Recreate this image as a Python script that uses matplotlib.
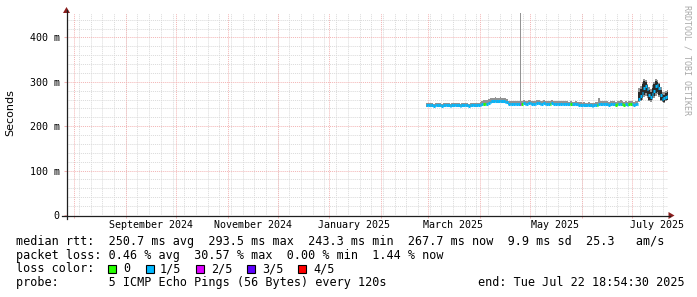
import numpy as np
import pandas as pd
import matplotlib
matplotlib.use("Agg")
import matplotlib.pyplot as plt
import matplotlib.dates as mdates
import matplotlib.transforms as mtransforms
from matplotlib.patches import Rectangle, Polygon
from matplotlib.lines import Line2D

# ---------------- data ----------------
end_time = pd.Timestamp("2025-07-22 18:54:30")
span_days = 360
day_dates = pd.date_range("2025-02-28", "2025-07-22", freq="D")  # 145 days

median_ms = [
    247, 248, 247, 247, 246, 247, 248, 247, 247, 246,
    247, 247, 248, 247, 246, 247, 247, 248, 247, 247,
    246, 247, 247, 248, 247, 246, 247, 247, 248, 247,
    247, 248,
    248, 249, 250, 250, 251, 252,
    255, 256, 256, 257, 256, 256, 257, 256, 256, 255, 255,
    251, 250, 251, 250, 250, 251, 250, 251,
    251, 252, 251, 251, 252, 252, 251, 250, 251, 252,
    252, 251, 251, 252, 251, 250, 251, 251, 252, 251,
    251, 250, 251, 251, 250, 250, 251, 250, 249, 250,
    249, 249, 250, 249, 248,
    248, 247, 248, 247, 247, 248, 247, 246, 247, 248, 248,
    249, 250, 249, 250, 251, 249, 248, 249, 250, 249,
    248, 249, 250, 251, 249, 248, 249, 248, 249, 250,
    249, 248, 249, 250,
    262, 268, 275, 285, 290, 283, 270, 266, 272, 280,
    290, 293, 285, 270, 262, 263, 266, 268,
]
smoke_hi_ms = [
    252, 253, 252, 252, 251, 252, 253, 252, 252, 251,
    252, 252, 253, 252, 251, 252, 252, 253, 252, 252,
    251, 252, 252, 253, 252, 251, 252, 252, 253, 252,
    252, 253,
    255, 257, 259, 260, 260, 261,
    263, 264, 264, 265, 264, 264, 265, 264, 264, 263, 262,
    257, 256, 257, 256, 256, 257, 256, 480,
    257, 258, 257, 257, 258, 258, 257, 256, 257, 258,
    258, 257, 257, 258, 257, 256, 257, 257, 258, 257,
    257, 256, 257, 257, 256, 256, 257, 256, 255, 256,
    255, 255, 256, 255, 254,
    254, 253, 254, 253, 253, 254, 253, 252, 253, 254, 254,
    264, 257, 256, 257, 257, 256, 255, 256, 257, 256,
    255, 256, 257, 258, 256, 255, 256, 255, 256, 257,
    256, 255, 256, 257,
    285, 290, 300, 306, 303, 296, 288, 284, 293, 300,
    306, 304, 298, 288, 278, 276, 280, 282,
]
smoke_lo_ms = [
    244, 245, 244, 244, 243, 244, 245, 244, 244, 243,
    244, 244, 245, 244, 243, 244, 244, 245, 244, 244,
    243, 244, 244, 245, 244, 243, 244, 244, 245, 244,
    244, 245,
    245, 246, 247, 247, 248, 249,
    252, 253, 253, 254, 253, 253, 254, 253, 253, 252, 252,
    248, 247, 248, 247, 247, 248, 247, 246,
    248, 249, 248, 248, 249, 249, 248, 247, 248, 249,
    249, 248, 248, 249, 248, 247, 248, 248, 249, 248,
    248, 247, 248, 248, 247, 247, 248, 247, 246, 247,
    246, 246, 247, 246, 245,
    245, 244, 245, 244, 244, 245, 244, 243, 244, 245, 245,
    246, 247, 246, 247, 248, 246, 245, 246, 247, 246,
    245, 246, 247, 248, 246, 245, 246, 245, 246, 247,
    246, 245, 246, 247,
    254, 256, 260, 265, 268, 264, 257, 255, 258, 263,
    268, 272, 266, 257, 254, 253, 256, 258,
]
loss_level = [
    1, 1, 1, 1, 1, 1, 1, 1, 1, 1,
    1, 1, 1, 1, 1, 1, 1, 1, 1, 1,
    1, 1, 1, 1, 1, 1, 1, 1, 1, 1,
    1, 1,
    1, 1, 0, 0, 1, 1,
    1, 1, 1, 1, 1, 1, 1, 1, 1, 1, 1,
    1, 1, 1, 1, 1, 1, 1, 2,
    0, 1, 1, 1, 1, 1, 1, 1, 1, 1,
    1, 1, 1, 1, 1, 1, 1, 0, 1, 1,
    1, 1, 1, 1, 1, 1, 1, 1, 1, 0,
    1, 1, 1, 1, 1,
    1, 1, 1, 1, 1, 1, 1, 1, 1, 1, 0,
    1, 1, 1, 1, 1, 1, 1, 1, 1, 1,
    0, 0, 1, 1, 0, 0, 1, 1, 0, 0,
    1, 1, 1, 1,
    1, 1, 1, 1, 1, 1, 1, 1, 1, 1,
    1, 1, 1, 1, 1, 1, 1, 1,
]
# inner (dense) smoke, visible only in the noisy period
inner_dates = pd.date_range("2025-07-05", "2025-07-22", freq="D")
inner_lo_ms = [256, 259, 264, 270, 274, 269, 260, 258, 263, 268,
               274, 278, 271, 260, 256, 255, 258, 260]
inner_hi_ms = [278, 283, 294, 302, 300, 292, 282, 278, 287, 296,
               302, 300, 294, 282, 272, 270, 274, 276]

loss_labels = ["0", "1/5", "2/5", "3/5", "4/5"]
loss_colors = ["#26ff00", "#00b8ff", "#dd00ff", "#5e00ff", "#ff0000"]

y_ticks = [0, 100, 200, 300, 400]
y_tick_labels = ["0", "100 m", "200 m", "300 m", "400 m"]
x_label_months = ["2024-09-01", "2024-11-01", "2025-01-01",
                  "2025-03-01", "2025-05-01", "2025-07-01"]
x_label_texts = ["September 2024", "November 2024", "January 2025",
                 "March 2025", "May 2025", "July 2025"]

line_rtt = "median rtt:  250.7 ms avg  293.5 ms max  243.3 ms min  267.7 ms now  9.9 ms sd  25.3   am/s"
line_loss = "packet loss: 0.46 % avg  30.57 % max  0.00 % min  1.44 % now"
line_color = "loss color:"
line_probe = "probe:       5 ICMP Echo Pings (56 Bytes) every 120s"
line_end = "end: Tue Jul 22 18:54:30 2025"
y_title = "Seconds"
watermark = "RRDTOOL / TOBI OETIKER"

# ---------------- layout ----------------
W, H, DPI = 697, 297, 100
MONO = "DejaVu Sans Mono"
fig = plt.figure(figsize=(W / DPI, H / DPI), dpi=DPI, facecolor="white")

def fx(x):
    return x / W

def fy(y):
    return 1 - y / H

ax_left, ax_right, ax_top, ax_bottom = 67, 668, 13, 215
ax = fig.add_axes([fx(ax_left), fy(ax_bottom), (ax_right - ax_left) / W,
                   (ax_bottom - ax_top) / H])
ax.set_facecolor("white")
for s in ax.spines.values():
    s.set_visible(False)

t_end = mdates.date2num(end_time)
t_start = mdates.date2num(end_time - pd.Timedelta(days=span_days))
ax.set_xlim(t_start, t_end)
ax.set_ylim(0, 455)

# grid
dot = (0, (1, 1))
minor_grid = "#dadada"
major_grid = "#f3b4b4"
for v in np.arange(20, 455, 20):
    if v % 100:
        ax.axhline(v, color=minor_grid, lw=0.7, ls=dot, zorder=0)
weeks = pd.date_range((end_time - pd.Timedelta(days=span_days)).normalize(),
                      end_time, freq="W-SUN")
for w in weeks:
    ax.axvline(mdates.date2num(w), color=minor_grid, lw=0.7, ls=dot, zorder=0)
for v in y_ticks[1:]:
    ax.axhline(v, color=major_grid, lw=0.7, ls=dot, zorder=0.5)
months = pd.date_range((end_time - pd.Timedelta(days=span_days)).normalize(),
                       end_time, freq="MS")
for m in months:
    ax.axvline(mdates.date2num(m), color=major_grid, lw=0.7, ls=dot, zorder=0.5)

# smoke
xd = mdates.date2num(day_dates)
ax.bar(xd, np.subtract(smoke_hi_ms, smoke_lo_ms), bottom=smoke_lo_ms,
       width=1.0, align="edge", color="#939393", linewidth=0, zorder=2)
xi = mdates.date2num(inner_dates)
ax.bar(xi, np.subtract(inner_hi_ms, inner_lo_ms), bottom=inner_lo_ms,
       width=1.0, align="edge", color="#2a2a2a", linewidth=0, zorder=3)
# median, coloured by loss
ax.hlines(median_ms, xd, xd + 1.0, colors=[loss_colors[l] for l in loss_level],
          linewidth=2.2, capstyle="butt", zorder=4)

# ticks
ax.set_yticks(y_ticks)
ax.set_yticklabels(y_tick_labels, family=MONO, fontsize=7.2)
ax.tick_params(axis="y", length=2.2, width=0.75, color=major_grid, pad=3.0)
lab_pos = [mdates.date2num(pd.Timestamp(m)) + 15 for m in x_label_months]
ax.set_xticks(lab_pos)
ax.set_xticklabels(x_label_texts, family=MONO, fontsize=7.2)
ax.tick_params(axis="x", which="major", length=0, pad=3.6)
ax.set_xticks(mdates.date2num(months), minor=True)
ax.tick_params(axis="x", which="minor", length=2.2, width=0.75, color=major_grid)

# axes lines and arrows (pixel coordinates)
ident = mtransforms.IdentityTransform()
axis_col = "#1f1f1f"
arrow_col = "#8b1e1e"
fig.add_artist(Line2D([62, 670], [H - 215.5, H - 215.5], color=axis_col, lw=0.9,
                      transform=ident))
fig.add_artist(Line2D([66.5, 66.5], [H - 219, H - 10], color=axis_col, lw=0.9,
                      transform=ident))
fig.add_artist(Polygon([[668.5, H - 212], [668.5, H - 219], [674.5, H - 215.5]],
                       closed=True, color=arrow_col, transform=ident, lw=0))
fig.add_artist(Polygon([[63, H - 13], [70, H - 13], [66.5, H - 7]],
                       closed=True, color=arrow_col, transform=ident, lw=0))

# titles / watermark
fig.text(fx(10), fy(113), y_title, rotation=90, ha="center", va="center",
         fontsize=8, family="DejaVu Sans")
fig.text(fx(687), fy(5), watermark, rotation=270, ha="center", va="top",
         fontsize=6, family=MONO, color="#a8a8a8")

# legend
fs = 8.5
fig.text(fx(16), fy(241.7), line_rtt, ha="left", va="center", fontsize=fs, family=MONO)
fig.text(fx(16), fy(255.0), line_loss, ha="left", va="center", fontsize=fs, family=MONO)
fig.text(fx(16), fy(269.0), line_color, ha="left", va="center", fontsize=fs, family=MONO)
fig.text(fx(16), fy(282.7), line_probe, ha="left", va="center", fontsize=fs, family=MONO)
fig.text(fx(478), fy(282.7), line_end, ha="left", va="center", fontsize=fs, family=MONO)

box_x = [108.3, 145.7, 196.0, 247.0, 297.7]
lab_x = [123.3, 160.0, 210.7, 261.7, 313.3]
for bx, lx, lab, col in zip(box_x, lab_x, loss_labels, loss_colors):
    fig.add_artist(Rectangle((bx, H - 273), 8, 8, facecolor=col,
                             edgecolor="black", lw=0.8, transform=ident))
    fig.text(fx(lx), fy(269.0), lab, ha="left", va="center", fontsize=fs, family=MONO)

fig.savefig("out.png", dpi=DPI, facecolor="white")
